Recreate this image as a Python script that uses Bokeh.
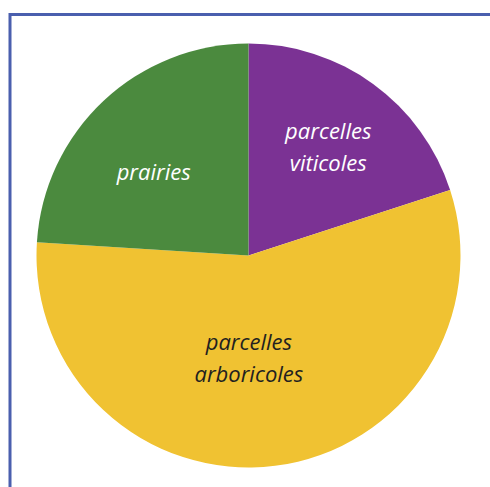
import math
from bokeh.plotting import figure
from bokeh.models import Range1d, ColumnDataSource
from bokeh.core.properties import value
from bokeh.embed import file_html
from bokeh.resources import INLINE

# data
categories = ["parcelles\nviticoles", "parcelles\narboricoles", "prairies"]
shares = [20, 56, 24]
colors = ["#7b3294", "#f0c232", "#4b8a3e"]
text_colors = ["#ffffff", "#231f20", "#ffffff"]

# layout (pixel-like data space)
W, H = 490, 487
CX, CY, R = 248, 232, 212
# label placement: (radius fraction, angle offset deg) relative to mid angle
label_r = [0.64, 0.48, 0.60]
label_da = [0.0, -7.0, 5.0]

total = float(sum(shares))
starts, ends, lx, ly = [], [], [], []
a = math.pi / 2
for i, s in enumerate(shares):
    span = 2 * math.pi * s / total
    starts.append(a - span)
    ends.append(a)
    mid = a - span / 2 + math.radians(label_da[i])
    lx.append(CX + R * label_r[i] * math.cos(mid))
    ly.append(CY + R * label_r[i] * math.sin(mid))
    a -= span

src = ColumnDataSource(dict(start=starts, end=ends, color=colors,
                            label=categories, lx=lx, ly=ly, tc=text_colors))

p = figure(width=W, height=H, output_backend="svg", toolbar_location=None,
           x_range=Range1d(0, W), y_range=Range1d(0, H), min_border=0)
p.axis.visible = False
p.grid.visible = False
p.outline_line_color = None

p.wedge(x=CX, y=CY, radius=R, start_angle="start", end_angle="end",
        fill_color="color", line_color=None, source=src)

p.text(x="lx", y="ly", text="label", text_color="tc", source=src,
       text_font=value("Open Sans"), text_font_style="italic",
       text_font_size="22px", text_align="center", text_baseline="middle",
       text_line_height=1.07)

# frame border (top and left)
p.segment(x0=[9.5, 9.5], y0=[474.5, 473], x1=[9.5, W + 10], y1=[-10, 473],
          line_color="#4a5fae", line_width=3)

open("out.html", "w").write(file_html(p, INLINE))
